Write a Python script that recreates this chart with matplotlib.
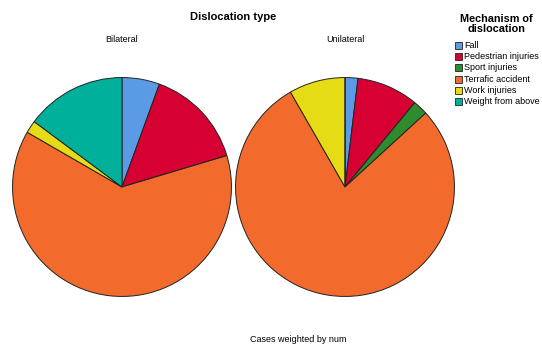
import matplotlib
matplotlib.use("Agg")
import matplotlib.pyplot as plt
from matplotlib.patches import Rectangle

plt.rcParams['font.family'] = ['Liberation Sans', 'DejaVu Sans']

categories = ["Fall", "Pedestrian injuries", "Sport injuries", "Terrafic accident",
              "Work injuries", "Weight from above"]
colors = ["#5B9BE6", "#D60032", "#2E8B2E", "#F26B2D", "#E5DC16", "#00B09B"]
groups = ["Bilateral", "Unilateral"]
bilateral = [3, 8, 0, 34, 1, 8]
unilateral = [1.9, 9.1, 2.2, 78.5, 8.3, 0]

W, H = 542, 345
fig = plt.figure(figsize=(W / 100, H / 100), dpi=100)

def fx(x): return x / W
def fy(y): return 1 - y / H

centers = [(122, 187), (345, 187)]
R = 110
for (cx, cy), vals, name in zip(centers, [bilateral, unilateral], groups):
    ax = fig.add_axes([fx(cx - R), fy(cy + R), 2 * R / W, 2 * R / H])
    wedges, _ = ax.pie(vals, colors=colors, startangle=90, counterclock=False, radius=1,
                       wedgeprops=dict(edgecolor="#222222", linewidth=0.7))
    ax.set_xlim(-1.005, 1.005)
    ax.set_ylim(-1.005, 1.005)
    ax.set_aspect("equal")
    ax.axis("off")
    for w in wedges:
        w.set_clip_on(False)
    fig.text(fx(cx), fy(39), name, ha="center", va="center", fontsize=6.5)

fig.text(fx(233), fy(17.5), "Dislocation type", ha="center", va="center",
         fontsize=8, fontweight="bold")
fig.text(fx(496), fy(24), "Mechanism of\ndislocation", ha="center", va="center",
         fontsize=7.8, fontweight="bold", linespacing=0.95)

y0, dy = 45.5, 11.2
for i, (c, lab) in enumerate(zip(colors, categories)):
    yc = y0 + i * dy
    fig.add_artist(Rectangle((fx(455), fy(yc + 3.5)), 7 / W, 7 / H,
                             facecolor=c, edgecolor="#222222", linewidth=0.6,
                             transform=fig.transFigure))
    fig.text(fx(464.5), fy(yc), lab, ha="left", va="center", fontsize=6.5)

fig.text(fx(298), fy(340), "Cases weighted by num", ha="center", va="center",
         fontsize=6.5)

fig.savefig("out.png", dpi=100)
